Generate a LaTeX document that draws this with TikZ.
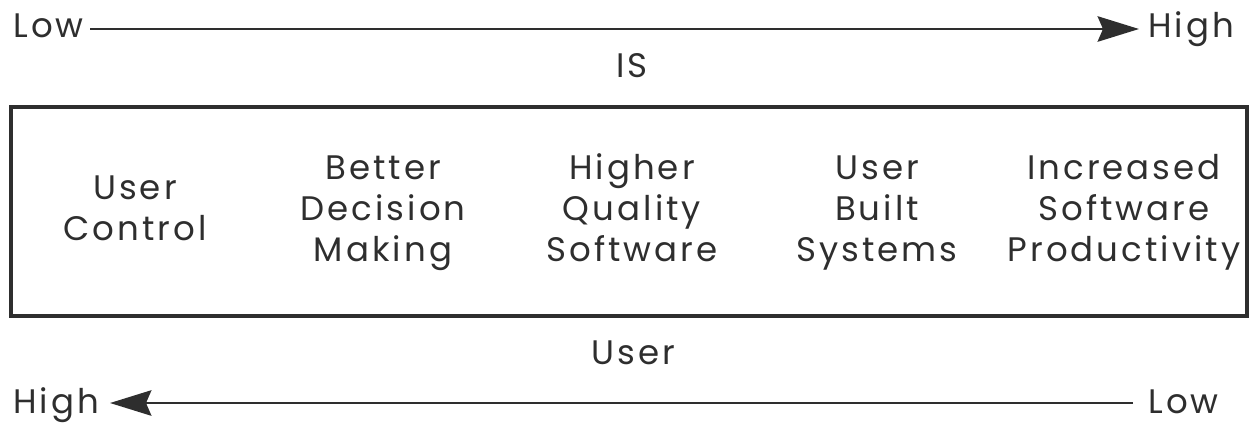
\documentclass[tikz,border=0pt]{standalone}
\usepackage{fontspec}
\setmainfont{Poppins}[LetterSpace=9]
\usetikzlibrary{arrows.meta}
\definecolor{ink}{HTML}{2E2E2E}
\begin{document}
\begin{tikzpicture}[x=0.75pt,y=-0.75pt,
  lbl/.style={font=\fontsize{25.5}{30.75}\selectfont, inner sep=0pt, text=ink, anchor=base},
  col/.style={lbl, align=center},
  axis/.style={line width=2.2pt, draw=ink, -{Stealth[length=31pt,width=19pt,inset=4pt]}},
  frame/.style={line width=2.6pt, draw=ink}]
\useasboundingbox (0,0) rectangle (1253,426);
% top scale
\node[lbl, anchor=base west] (low1) at (13,37) {Low};
\node[lbl, anchor=base west] (high1) at (1148,37) {High};
\coordinate (t0) at (90,29);
\coordinate (t1) at (1139,29);
\draw[axis] (t0) -- (t1);
\node[lbl] (is) at (632,77) {IS};
% box
\draw[frame] (11,107) rectangle (1247,316);
\node[col] (c1) at (135,240) {User\\Control};
\node[col] (c2) at (383,261) {Better\\Decision\\Making};
\node[col] (c3) at (632,261) {Higher\\Quality\\Software};
\node[col] (c4) at (877,261) {User\\Built\\Systems};
\node[col] (c5) at (1124,261) {Increased\\Software\\Productivity};
\node[lbl] (user) at (633,364) {User};
% bottom scale
\node[lbl, anchor=base west] (high2) at (13,413) {High};
\node[lbl, anchor=base west] (low2) at (1148,413) {Low};
\coordinate (b0) at (1133,403);
\coordinate (b1) at (110,403);
\draw[axis] (b0) -- (b1);
\end{tikzpicture}
\end{document}
